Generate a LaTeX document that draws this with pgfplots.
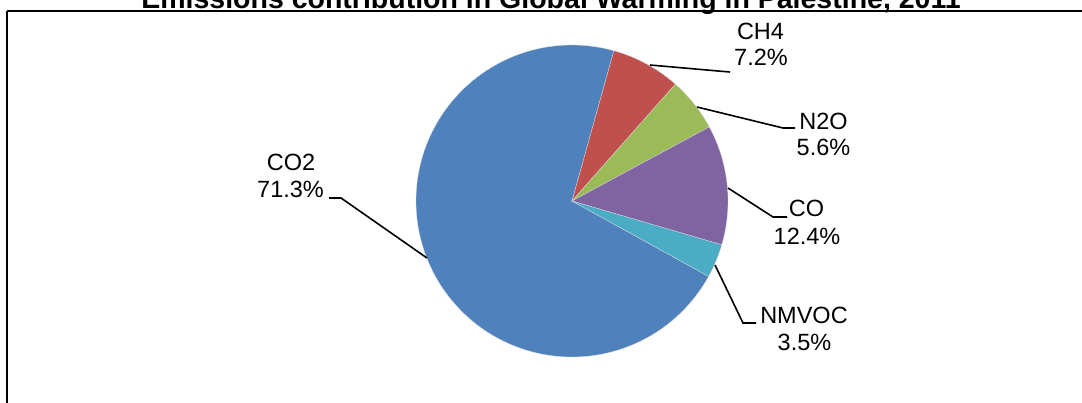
\documentclass[border=0pt]{standalone}
\usepackage{pgfplots}
\usepackage{pgfplotstable}
\pgfplotsset{compat=1.18}
\usepackage{fontspec}
\setmainfont{Liberation Sans}

\definecolor{cCOtwo}{HTML}{4F81BD}
\definecolor{cCHfour}{HTML}{C0504D}
\definecolor{cNtwoO}{HTML}{9BBB59}
\definecolor{cCO}{HTML}{8064A2}
\definecolor{cNMVOC}{HTML}{4BACC6}

\pgfplotstableread{
name pct
CO2 71.3
CH4 7.2
N2O 5.6
CO 12.4
NMVOC 3.5
}\piedata

% cumulative angles, clockwise from 12 o'clock
\pgfmathsetmacro\aA{118.9}
\pgfplotstablegetelem{0}{pct}\of\piedata \pgfmathsetmacro\aB{\aA+3.6*\pgfplotsretval}
\pgfplotstablegetelem{1}{pct}\of\piedata \pgfmathsetmacro\aC{\aB+3.6*\pgfplotsretval}
\pgfplotstablegetelem{2}{pct}\of\piedata \pgfmathsetmacro\aD{\aC+3.6*\pgfplotsretval}
\pgfplotstablegetelem{3}{pct}\of\piedata \pgfmathsetmacro\aE{\aD+3.6*\pgfplotsretval}
\pgfplotstablegetelem{4}{pct}\of\piedata \pgfmathsetmacro\aF{\aE+3.6*\pgfplotsretval}

\newcommand\lbl{\fontsize{23.5}{27}\selectfont}

\begin{document}
\begin{tikzpicture}
\useasboundingbox (0,0) rectangle (1082pt,403pt);
\begin{axis}[
  scale only axis, width=1082pt, height=403pt,
  xmin=0, xmax=1082, ymin=0, ymax=403, y dir=reverse,
  hide axis, clip=false,
]
% frame
\draw[line width=2pt, black] (axis cs:7,11) -- (axis cs:7,430);
\draw[line width=2pt, black] (axis cs:7,11) -- (axis cs:1100,11);
% title
\node[anchor=base, inner sep=0pt, font=\fontsize{28.5}{32}\selectfont\bfseries]
  at (axis cs:551,9) {Emissions contribution in Global Warming in Palestine, 2011};
% slices
\addplot[fill=cCOtwo, draw=white!70!gray, line width=0.3pt, domain=\aA:\aB, samples=160, variable=\t]
  ({572+156*sin(\t)},{201-156*cos(\t)}) -- (axis cs:572,201) -- cycle;
\addplot[fill=cCHfour, draw=white!70!gray, line width=0.3pt, domain=\aB:\aC, samples=40, variable=\t]
  ({572+156*sin(\t)},{201-156*cos(\t)}) -- (axis cs:572,201) -- cycle;
\addplot[fill=cNtwoO, draw=white!70!gray, line width=0.3pt, domain=\aC:\aD, samples=40, variable=\t]
  ({572+156*sin(\t)},{201-156*cos(\t)}) -- (axis cs:572,201) -- cycle;
\addplot[fill=cCO, draw=white!70!gray, line width=0.3pt, domain=\aD:\aE, samples=60, variable=\t]
  ({572+156*sin(\t)},{201-156*cos(\t)}) -- (axis cs:572,201) -- cycle;
\addplot[fill=cNMVOC, draw=white!70!gray, line width=0.3pt, domain=\aE:\aF, samples=30, variable=\t]
  ({572+156*sin(\t)},{201-156*cos(\t)}) -- (axis cs:572,201) -- cycle;
% leader lines
\draw[line width=1.6pt] (axis cs:650,65) -- (axis cs:718,71) -- (axis cs:730,72);
\draw[line width=1.6pt] (axis cs:697,107) -- (axis cs:783,128) -- (axis cs:795,128);
\draw[line width=1.6pt] (axis cs:728,188) -- (axis cs:773,217) -- (axis cs:787,217);
\draw[line width=1.6pt] (axis cs:715,265) -- (axis cs:743,323) -- (axis cs:756,323);
\draw[line width=1.6pt] (axis cs:427,258) -- (axis cs:341,198) -- (axis cs:329,198);
% labels
\node[anchor=base, inner sep=0pt, font=\lbl] at (axis cs:760.5,40) {CH4};
\node[anchor=base, inner sep=0pt, font=\lbl] at (axis cs:761,66) {7.2\%};
\node[anchor=base, inner sep=0pt, font=\lbl] at (axis cs:823.5,130) {N2O};
\node[anchor=base, inner sep=0pt, font=\lbl] at (axis cs:823.5,156) {5.6\%};
\node[anchor=base, inner sep=0pt, font=\lbl] at (axis cs:806.5,217) {CO};
\node[anchor=base, inner sep=0pt, font=\lbl] at (axis cs:807,244) {12.4\%};
\node[anchor=base, inner sep=0pt, font=\lbl] at (axis cs:804,323) {NMVOC};
\node[anchor=base, inner sep=0pt, font=\lbl] at (axis cs:804.5,350) {3.5\%};
\node[anchor=base, inner sep=0pt, font=\lbl] at (axis cs:291,171) {CO2};
\node[anchor=base, inner sep=0pt, font=\lbl] at (axis cs:290.5,198) {71.3\%};
\end{axis}
\end{tikzpicture}
\end{document}
